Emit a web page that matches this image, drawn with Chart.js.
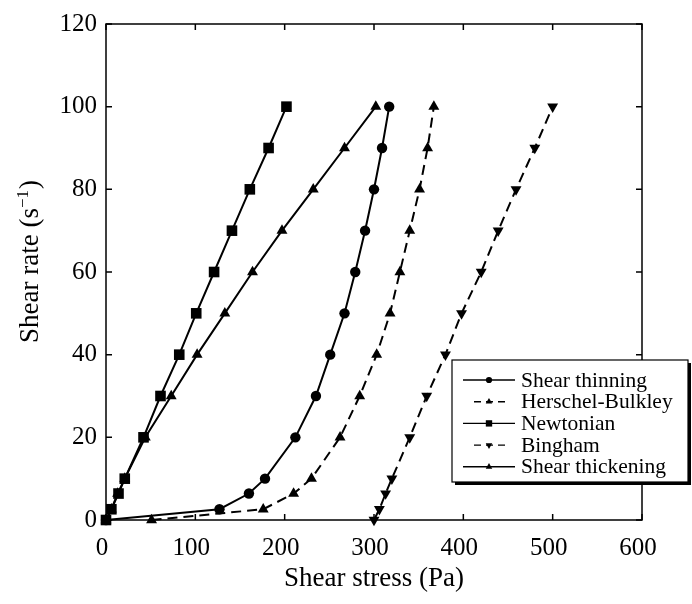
<!DOCTYPE html>
<html>
<head>
<meta charset="utf-8">
<script src="https://cdn.jsdelivr.net/npm/chart.js@4.4.1/dist/chart.umd.min.js"></script>
<style>
  body { margin: 0; background: #fff; }
  canvas { display: block; }
</style>
</head>
<body>
<canvas id="rheology" width="692" height="604"></canvas>
<script>
// shear rate (s^-1) shared by every curve
const shearRate = [0, 2.6, 6.4, 10, 20, 30, 40, 50, 60, 70, 80, 90, 100];

// shear stress (Pa) for each model
const thinning = [0, 127, 160, 178, 212, 235, 251, 267, 279, 290, 300, 309, 317];
const herschel = [51, 176, 210, 230, 262, 284, 303, 318, 329, 340, 351, 360, 367];
const newtonian = [0, 6, 14, 21, 42, 61, 82, 101, 121, 141, 161, 182, 202];
const bingham = [300, 306, 313, 320, 340, 359, 380, 398, 420, 439, 459, 480, 500];
const thickening = [0, 6, 13, 21, 44, 73, 102, 133, 164, 197, 232, 267, 302];

const seriesNames = ["Shear thinning", "Herschel-Bulkley", "Newtonian", "Bingham", "Shear thickening"];

const xTicks = [0, 100, 200, 300, 400, 500, 600];
const yTicks = [0, 20, 40, 60, 80, 100, 120];

const serif = "'Liberation Serif', 'Times New Roman', serif";

function toPoints(stress){
  let pts = [];
  for(let i = 0; i < stress.length; i++){
    pts.push({x: stress[i], y: shearRate[i]});
  }
  return pts;
}

function makeSet(name, stress, style, radius, rotation, dashed){
  return {
    label: name,
    data: toPoints(stress),
    showLine: true,
    borderColor: "#000",
    backgroundColor: "#000",
    borderWidth: 2,
    borderDash: dashed ? [10, 6] : [],
    pointStyle: style,
    pointRadius: radius,
    pointRotation: rotation,
    pointBorderWidth: 0,
    pointBackgroundColor: "#000",
    tension: 0,
    clip: false
  };
}

// frame, inward tick marks on all four sides, y title with superscript
const framePlugin = {
  id: "frame",
  beforeDatasetsDraw(chart){
    const ctx = chart.ctx;
    const a = chart.chartArea;
    const xs = chart.scales.x;
    const ys = chart.scales.y;
    const len = 6;
    ctx.save();
    ctx.strokeStyle = "#000";
    ctx.lineWidth = 1.5;
    ctx.strokeRect(a.left, a.top, a.right - a.left, a.bottom - a.top);
    ctx.beginPath();
    xTicks.forEach(function(v){
      let px = xs.getPixelForValue(v);
      ctx.moveTo(px, a.bottom); ctx.lineTo(px, a.bottom - len);
      ctx.moveTo(px, a.top); ctx.lineTo(px, a.top + len);
    });
    yTicks.forEach(function(v){
      let py = ys.getPixelForValue(v);
      ctx.moveTo(a.left, py); ctx.lineTo(a.left + len, py);
      ctx.moveTo(a.right, py); ctx.lineTo(a.right - len, py);
    });
    ctx.stroke();

    // y axis title
    let main = "27px " + serif;
    let sup = "17px " + serif;
    ctx.font = main;
    let w1 = ctx.measureText("Shear rate (s").width;
    let w3 = ctx.measureText(")").width;
    ctx.font = sup;
    let w2 = ctx.measureText("\u22121").width;
    let total = w1 + w2 + w3;
    ctx.translate(29, 262);
    ctx.rotate(-Math.PI / 2);
    ctx.fillStyle = "#000";
    ctx.textBaseline = "alphabetic";
    ctx.textAlign = "left";
    let x0 = -total / 2;
    ctx.font = main;
    ctx.fillText("Shear rate (s", x0, 9);
    ctx.font = sup;
    ctx.fillText("\u22121", x0 + w1, -1);
    ctx.font = main;
    ctx.fillText(")", x0 + w1 + w2 + 1, 9);
    ctx.restore();
  }
};

// boxed legend with a drop shadow, overlapping the right frame
const legendPlugin = {
  id: "boxLegend",
  afterDraw(chart){
    const ctx = chart.ctx;
    const box = {left: 452, top: 360, right: 688, bottom: 482};
    ctx.save();
    ctx.fillStyle = "#000";
    ctx.fillRect(box.left + 3, box.top + 3, box.right - box.left, box.bottom - box.top);
    ctx.fillStyle = "#fff";
    ctx.fillRect(box.left, box.top, box.right - box.left, box.bottom - box.top);
    ctx.strokeStyle = "#000";
    ctx.lineWidth = 1.2;
    ctx.strokeRect(box.left, box.top, box.right - box.left, box.bottom - box.top);

    ctx.font = "21.5px " + serif;
    ctx.textBaseline = "middle";
    ctx.textAlign = "left";
    chart.data.datasets.forEach(function(ds, i){
      let y = 380 + i * 21.7;
      let dashed = ds.borderDash.length > 0;
      ctx.strokeStyle = "#000";
      ctx.lineWidth = 1.4;
      ctx.beginPath();
      if(dashed){
        ctx.setLineDash([7, 5]);
        ctx.moveTo(474, y); ctx.lineTo(506, y);
      } else {
        ctx.setLineDash([]);
        ctx.moveTo(463, y); ctx.lineTo(515, y);
      }
      ctx.stroke();
      ctx.setLineDash([]);
      ctx.fillStyle = "#000";
      Chart.helpers.drawPoint(ctx, {
        pointStyle: ds.pointStyle,
        radius: ds.pointRadius * 0.6,
        rotation: ds.pointRotation,
        borderWidth: 0
      }, 489, y);
      ctx.fillStyle = "#000";
      ctx.fillText(seriesNames[i], 521, y + 1);
    });
    ctx.restore();
  }
};

new Chart(document.getElementById("rheology"), {
  type: "scatter",
  data: {
    datasets: [
      makeSet(seriesNames[0], thinning, "circle", 5.2, 0, false),
      makeSet(seriesNames[1], herschel, "triangle", 6.3, 0, true),
      makeSet(seriesNames[2], newtonian, "rect", 7.5, 0, false),
      makeSet(seriesNames[3], bingham, "triangle", 6.3, 180, true),
      makeSet(seriesNames[4], thickening, "triangle", 6.3, 0, false)
    ]
  },
  options: {
    responsive: false,
    animation: false,
    layout: {padding: {left: 0, right: 50, top: 20, bottom: 0}},
    plugins: {
      legend: {display: false},
      tooltip: {enabled: false}
    },
    scales: {
      x: {
        type: "linear",
        min: 0,
        max: 600,
        afterFit(scale){ scale.height = 84; },
        afterBuildTicks(scale){ scale.ticks = xTicks.map(v => ({value: v})); },
        grid: {display: false, drawTicks: false},
        border: {display: false},
        ticks: {color: "#000", padding: 13, labelOffset: -4, font: {family: serif, size: 25}},
        title: {
          display: true,
          text: "Shear stress (Pa)",
          color: "#000",
          padding: {top: 0, bottom: 9},
          font: {family: serif, size: 27}
        }
      },
      y: {
        type: "linear",
        min: 0,
        max: 120,
        afterFit(scale){ scale.width = 106; },
        afterBuildTicks(scale){ scale.ticks = yTicks.map(v => ({value: v})); },
        grid: {display: false, drawTicks: false},
        border: {display: false},
        ticks: {color: "#000", padding: 9, font: {family: serif, size: 25}},
        title: {display: false}
      }
    }
  },
  plugins: [framePlugin, legendPlugin]
});
</script>
</body>
</html>
